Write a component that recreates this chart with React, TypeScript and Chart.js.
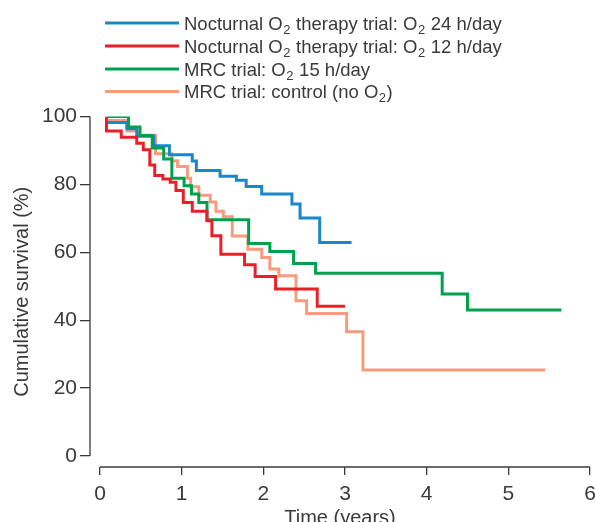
import React, { useEffect, useRef } from 'react';
import { Chart, registerables } from 'chart.js';

Chart.register(...registerables);

// ---- Data ----
const seriesLabels = [
  'Nocturnal O₂ therapy trial: O₂ 24 h/day',
  'Nocturnal O₂ therapy trial: O₂ 12 h/day',
  'MRC trial: O₂ 15 h/day',
  'MRC trial: control (no O₂)',
];
const seriesColors = ['#1a87c9', '#ea1f27', '#00a04c', '#f89b7c'];
const drawOrder = [2, 0, 1, 3];

// Nocturnal O2 24 h/day (years, % surviving after each step)
const blueTimes = [0.09, 0.33, 0.45, 0.66, 0.85, 1.13, 1.18, 1.47, 1.67, 1.79, 1.98, 2.35, 2.45, 2.69, 3.08];
const blueSurv = [98.2, 96.4, 94.2, 91.4, 88.7, 86.9, 84.1, 82.4, 81.2, 79.4, 77.2, 74.2, 70.1, 62.9, 62.9];

// Nocturnal O2 12 h/day
const redTimes = [0.08, 0.08, 0.26, 0.45, 0.53, 0.61, 0.67, 0.77, 0.86, 0.93, 1.02, 1.13, 1.31, 1.37, 1.48, 1.77, 1.90, 2.15, 2.66, 3.00];
const redSurv = [100, 95.7, 93.9, 92.1, 90.2, 85.7, 82.6, 81.6, 80.6, 78.2, 74.7, 72.1, 69.3, 64.9, 59.4, 56.3, 52.9, 49.2, 44.1, 44.1];

// MRC O2 15 h/day
const greenTimes = [0.09, 0.35, 0.49, 0.64, 0.78, 0.88, 1.03, 1.12, 1.21, 1.31, 1.82, 2.08, 2.37, 2.64, 4.19, 4.50, 5.65];
const greenSurv = [100, 96.9, 94.4, 90.7, 87.5, 81.8, 79.6, 77.2, 74.7, 69.6, 62.6, 60.2, 56.7, 53.8, 47.7, 43.0, 43.0];

// MRC control
const salmonTimes = [0.09, 0.33, 0.46, 0.68, 0.88, 0.95, 1.07, 1.11, 1.21, 1.35, 1.42, 1.51, 1.62, 1.81, 1.98, 2.08, 2.19, 2.40, 2.53, 3.02, 3.22, 5.45];
const salmonSurv = [98.8, 95.7, 94.5, 89.0, 87.0, 85.3, 81.8, 79.3, 76.8, 74.8, 72.1, 70.5, 64.8, 60.9, 58.5, 55.1, 53.1, 45.7, 42.0, 36.6, 25.3, 25.3];

const xTickValues = [0, 1, 2, 3, 4, 5, 6];
const yTickValues = [0, 20, 40, 60, 80, 100];
const xTitle = 'Time (years)';
const yTitle = 'Cumulative survival (%)';

const FONT = '"Liberation Sans", Arial, sans-serif';
const INK = '#3a3a3a';

const toPoints = (t: number[], s: number[]) => t.map((x, i) => ({ x, y: s[i] }));
const allTimes = [blueTimes, redTimes, greenTimes, salmonTimes];
const allSurv = [blueSurv, redSurv, greenSurv, salmonSurv];

function drawLabel(ctx: CanvasRenderingContext2D, text: string, x: number, baseline: number) {
  const parts = text.split('₂');
  let cx = x;
  parts.forEach((p, i) => {
    ctx.font = `18.5px ${FONT}`;
    ctx.fillText(p, cx, baseline);
    cx += ctx.measureText(p).width;
    if (i < parts.length - 1) {
      ctx.font = `13px ${FONT}`;
      ctx.fillText('2', cx + 0.5, baseline + 4);
      cx += ctx.measureText('2').width + 1;
    }
  });
}

const customPlugin = {
  id: 'customAxesLegend',
  afterDraw(chart: any) {
    const ctx: CanvasRenderingContext2D = chart.ctx;
    const xs = chart.scales.x;
    const ys = chart.scales.y;
    const area = chart.chartArea;
    ctx.save();
    ctx.strokeStyle = INK;
    ctx.lineWidth = 1.3;
    ctx.beginPath();
    ctx.moveTo(area.left, ys.getPixelForValue(yTickValues[yTickValues.length - 1]));
    ctx.lineTo(area.left, ys.getPixelForValue(yTickValues[0]));
    ctx.stroke();
    ctx.beginPath();
    ctx.moveTo(xs.getPixelForValue(xTickValues[0]), area.bottom);
    ctx.lineTo(xs.getPixelForValue(xTickValues[xTickValues.length - 1]), area.bottom);
    ctx.stroke();

    // legend
    const rows = [23, 46, 69, 91.5];
    chart.data.datasets.forEach((ds: any, i: number) => {
      const y = rows[i];
      ctx.strokeStyle = ds.borderColor;
      ctx.lineWidth = 3;
      ctx.beginPath();
      ctx.moveTo(105, y);
      ctx.lineTo(179, y);
      ctx.stroke();
      ctx.fillStyle = INK;
      ctx.textBaseline = 'alphabetic';
      ctx.textAlign = 'left';
      drawLabel(ctx, ds.label, 184, y + 6.5);
    });
    ctx.restore();
  },
};

export default function App() {
  const ref = useRef<HTMLCanvasElement>(null);
  useEffect(() => {
    const chart = new Chart(ref.current as HTMLCanvasElement, {
      type: 'line',
      data: {
        datasets: seriesLabels.map((label, i) => ({
          label,
          data: toPoints(allTimes[i], allSurv[i]),
          borderColor: seriesColors[i],
          backgroundColor: seriesColors[i],
          borderWidth: 3,
          pointRadius: 0,
          stepped: 'before' as const,
          fill: false,
          order: drawOrder[i],
        })),
      },
      options: {
        animation: false,
        responsive: false,
        devicePixelRatio: 1,
        layout: { padding: { top: 116.5, left: 0, right: 6, bottom: 0 } },
        plugins: { legend: { display: false }, tooltip: { enabled: false } },
        scales: {
          x: {
            type: 'linear',
            min: -0.1224,
            max: 6,
            afterBuildTicks: (s: any) => { s.ticks = xTickValues.map((v) => ({ value: v })); },
            afterFit: (s: any) => { s.height = 78; s.paddingLeft = 0; s.paddingRight = 0; },
            border: { display: false },
            grid: { drawOnChartArea: false, drawTicks: true, tickLength: 8, color: INK, lineWidth: 1.3 },
            ticks: { color: INK, font: { family: FONT, size: 21 }, padding: 7, maxRotation: 0, autoSkip: false },
            title: { display: true, text: xTitle, color: INK, font: { family: FONT, size: 20 }, padding: { top: 0, bottom: 15 } },
          },
          y: {
            type: 'linear',
            min: -3.24,
            max: 100,
            afterBuildTicks: (s: any) => { s.ticks = yTickValues.map((v) => ({ value: v })); },
            afterFit: (s: any) => { s.width = 90; s.paddingTop = 0; s.paddingBottom = 0; },
            border: { display: false },
            grid: { drawOnChartArea: false, drawTicks: true, tickLength: 10, color: INK, lineWidth: 1.3 },
            ticks: { color: INK, font: { family: FONT, size: 21 }, padding: 3, autoSkip: false },
            title: { display: true, text: yTitle, color: INK, font: { family: FONT, size: 20 }, padding: { top: 10, bottom: 0 } },
          },
        },
      },
      plugins: [customPlugin],
    } as any);
    return () => chart.destroy();
  }, []);
  return (
    <div style={{ position: 'fixed', left: 0, top: 0, width: 596, height: 522, overflow: 'hidden', background: '#fff' }}>
      <canvas ref={ref} width={596} height={545} style={{ display: 'block' }} />
    </div>
  );
}
